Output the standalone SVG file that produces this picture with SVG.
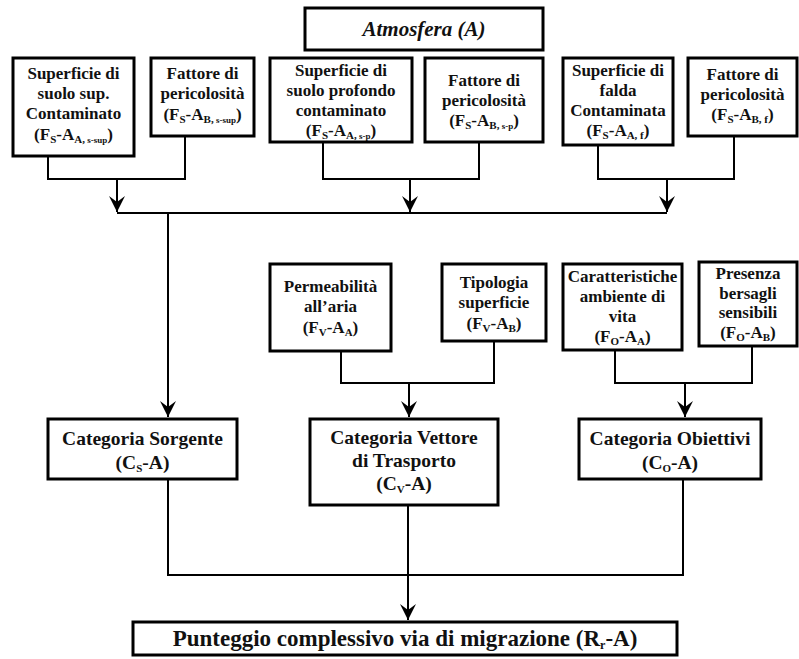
<svg xmlns="http://www.w3.org/2000/svg" width="799" height="659" viewBox="0 0 799 659">
<style>
.box{fill:#fff;stroke:#000;stroke-width:3}
.t{font-family:"Liberation Serif","Times New Roman",serif;font-weight:bold;font-size:17px;text-anchor:middle;fill:#111}
.c{font-size:19.5px}
.s{font-size:11px}
.ss{font-size:9px}
.ln{fill:none;stroke:#000;stroke-width:2}
</style>
<defs>
<marker id="ah" markerUnits="userSpaceOnUse" markerWidth="20" markerHeight="20" refX="16" refY="0" viewBox="-1 -10 19 20" orient="auto">
<path d="M0,-8 L16,0 L0,8 L6,0 Z" fill="#000"/>
</marker>
</defs>
<rect width="799" height="659" fill="#fff"/>
<g id="connectors">
<path class="ln" d="M48,156 V179 H185 V136"/>
<path class="ln" d="M117,179 V212" marker-end="url(#ah)"/>
<path class="ln" d="M323,142 V179 H479 V142"/>
<path class="ln" d="M410,179 V212" marker-end="url(#ah)"/>
<path class="ln" d="M598,145 V179 H734 V136"/>
<path class="ln" d="M667,179 V212" marker-end="url(#ah)"/>
<path class="ln" d="M117,213 H667"/>
<path class="ln" d="M168,213 V417" marker-end="url(#ah)"/>
<path class="ln" d="M341,351 V383 H494 V341"/>
<path class="ln" d="M409,383 V417" marker-end="url(#ah)"/>
<path class="ln" d="M615,350 V383 H752 V346"/>
<path class="ln" d="M685,383 V417" marker-end="url(#ah)"/>
<path class="ln" d="M168,479 V575 H683 V479"/>
<path class="ln" d="M408,505 V620" marker-end="url(#ah)"/>
</g>
<g id="atmosfera">
<rect class="box" x="305" y="8" width="238" height="42"/>
<text class="t" x="424" y="36" style="font-size:21px;font-style:italic">Atmosfera (A)</text>
</g>
<g id="n1">
<rect class="box" x="13" y="58" width="121" height="98"/>
<text class="t" x="73.5" y="79">Superficie di</text>
<text class="t" x="73.5" y="99">suolo sup.</text>
<text class="t" x="73.5" y="119">Contaminato</text>
<text class="t" x="73.5" y="140">(F<tspan class="s" dy="3">S</tspan><tspan dy="-3">-A</tspan><tspan class="s" dy="3">A,</tspan><tspan class="ss"> s-sup</tspan><tspan dy="-3">)</tspan></text>
</g>
<g id="n2">
<rect class="box" x="151" y="58" width="103" height="78"/>
<text class="t" x="202.5" y="79">Fattore di</text>
<text class="t" x="202.5" y="99">pericolosità</text>
<text class="t" x="202.5" y="120">(F<tspan class="s" dy="3">S</tspan><tspan dy="-3">-A</tspan><tspan class="s" dy="3">B,</tspan><tspan class="ss"> s-sup</tspan><tspan dy="-3">)</tspan></text>
</g>
<g id="n3">
<rect class="box" x="270" y="58" width="142" height="84"/>
<text class="t" x="341" y="76">Superficie di</text>
<text class="t" x="341" y="96">suolo profondo</text>
<text class="t" x="341" y="116">contaminato</text>
<text class="t" x="341" y="136">(F<tspan class="s" dy="3">S</tspan><tspan dy="-3">-A</tspan><tspan class="s" dy="3">A,</tspan><tspan class="ss"> s-p</tspan><tspan dy="-3">)</tspan></text>
</g>
<g id="n4">
<rect class="box" x="425" y="58" width="118" height="84"/>
<text class="t" x="484" y="86">Fattore di</text>
<text class="t" x="484" y="106">pericolosità</text>
<text class="t" x="484" y="126">(F<tspan class="s" dy="3">S</tspan><tspan dy="-3">-A</tspan><tspan class="s" dy="3">B,</tspan><tspan class="ss"> s-p</tspan><tspan dy="-3">)</tspan></text>
</g>
<g id="n5">
<rect class="box" x="563" y="58" width="110" height="87"/>
<text class="t" x="618" y="76">Superficie di</text>
<text class="t" x="618" y="96">falda</text>
<text class="t" x="618" y="116">Contaminata</text>
<text class="t" x="618" y="136">(F<tspan class="s" dy="3">S</tspan><tspan dy="-3">-A</tspan><tspan class="s" dy="3">A, f</tspan><tspan dy="-3">)</tspan></text>
</g>
<g id="n6">
<rect class="box" x="688" y="58" width="109" height="78"/>
<text class="t" x="742.5" y="80">Fattore di</text>
<text class="t" x="742.5" y="100">pericolosità</text>
<text class="t" x="742.5" y="120">(F<tspan class="s" dy="3">S</tspan><tspan dy="-3">-A</tspan><tspan class="s" dy="3">B, f</tspan><tspan dy="-3">)</tspan></text>
</g>
<g id="perm">
<rect class="box" x="270" y="264" width="121" height="87"/>
<text class="t" x="330.5" y="292">Permeabilità</text>
<text class="t" x="330.5" y="312">all’aria</text>
<text class="t" x="330.5" y="333">(F<tspan class="s" dy="3">V</tspan><tspan dy="-3">-A</tspan><tspan class="s" dy="3">A</tspan><tspan dy="-3">)</tspan></text>
</g>
<g id="tip">
<rect class="box" x="442" y="264" width="104" height="77"/>
<text class="t" x="494" y="288">Tipologia</text>
<text class="t" x="494" y="308">superficie</text>
<text class="t" x="494" y="329">(F<tspan class="s" dy="3">V</tspan><tspan dy="-3">-A</tspan><tspan class="s" dy="3">B</tspan><tspan dy="-3">)</tspan></text>
</g>
<g id="car">
<rect class="box" x="563" y="264" width="119" height="86"/>
<text class="t" x="622.5" y="282">Caratteristiche</text>
<text class="t" x="622.5" y="302">ambiente di</text>
<text class="t" x="622.5" y="322">vita</text>
<text class="t" x="622.5" y="342">(F<tspan class="s" dy="3">O</tspan><tspan dy="-3">-A</tspan><tspan class="s" dy="3">A</tspan><tspan dy="-3">)</tspan></text>
</g>
<g id="pres">
<rect class="box" x="699" y="262" width="98" height="84"/>
<text class="t" x="748" y="279">Presenza</text>
<text class="t" x="748" y="299">bersagli</text>
<text class="t" x="748" y="318">sensibili</text>
<text class="t" x="748" y="338">(F<tspan class="s" dy="3">O</tspan><tspan dy="-3">-A</tspan><tspan class="s" dy="3">B</tspan><tspan dy="-3">)</tspan></text>
</g>
<g id="sorgente">
<rect class="box" x="48" y="419" width="189" height="60"/>
<text class="t c" x="142.5" y="445">Categoria Sorgente</text>
<text class="t c" x="142.5" y="469">(C<tspan class="s" dy="3">S</tspan><tspan dy="-3">-A)</tspan></text>
</g>
<g id="vettore">
<rect class="box" x="310" y="419" width="188" height="86"/>
<text class="t c" x="404" y="444">Categoria Vettore</text>
<text class="t c" x="404" y="467">di Trasporto</text>
<text class="t c" x="404" y="490">(C<tspan class="s" dy="3">V</tspan><tspan dy="-3">-A)</tspan></text>
</g>
<g id="obiettivi">
<rect class="box" x="579" y="419" width="182" height="60"/>
<text class="t c" x="670" y="445">Categoria Obiettivi</text>
<text class="t c" x="670" y="469">(C<tspan class="s" dy="3">O</tspan><tspan dy="-3">-A)</tspan></text>
</g>
<g id="punteggio">
<rect class="box" x="133" y="622" width="544" height="33"/>
<text class="t" x="405" y="646" style="font-size:23px">Punteggio complessivo via di migrazione (R<tspan style="font-size:12px" dy="3">r</tspan><tspan dy="-3">-A)</tspan></text>
</g>
</svg>
